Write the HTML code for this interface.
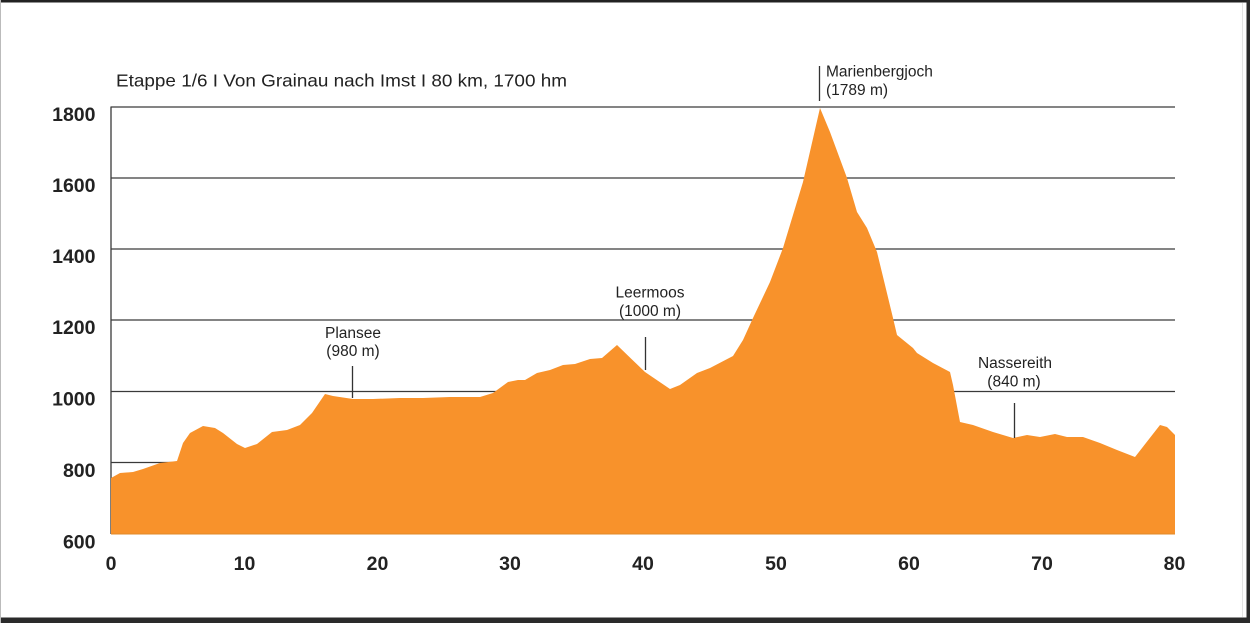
<!DOCTYPE html>
<html>
<head>
<meta charset="utf-8">
<style>
html,body{margin:0;padding:0;background:#fff;}
body{width:1250px;height:623px;overflow:hidden;}
svg{display:block;}
</style>
</head>
<body>
<svg width="1250" height="623" viewBox="0 0 1250 623" xmlns="http://www.w3.org/2000/svg">
  <rect x="0" y="0" width="1250" height="623" fill="#ffffff"/>
  <!-- frame -->
  <rect x="0" y="0" width="1250" height="2.5" fill="#222"/>
  <rect x="1246.5" y="0" width="3.5" height="623" fill="#2a2a2a"/>
  <rect x="0" y="617.5" width="1250" height="5.5" fill="#2a2a2a"/>
  <rect x="0" y="0" width="1" height="623" fill="#bbb"/>
  <line x1="1242.5" y1="3" x2="1242.5" y2="617" stroke="#e4e4e4" stroke-width="1"/>

  <!-- title -->
  <text x="116" y="86.5" font-family="Liberation Sans, sans-serif" font-size="17.5" fill="#222" textLength="451" lengthAdjust="spacingAndGlyphs">Etappe 1/6 I Von Grainau nach Imst I 80 km, 1700 hm</text>

  <!-- gridlines -->
  <g stroke="#3a3a3a" stroke-width="1.3">
    <line x1="111" y1="107" x2="1175" y2="107"/>
    <line x1="111" y1="178" x2="1175" y2="178"/>
    <line x1="111" y1="249" x2="1175" y2="249"/>
    <line x1="111" y1="320" x2="1175" y2="320"/>
    <line x1="111" y1="391.5" x2="1175" y2="391.5"/>
    <line x1="111" y1="462.5" x2="1175" y2="462.5"/>
    <line x1="111" y1="106.5" x2="111" y2="534"/>
  </g>

  <!-- profile -->
  <polygon fill="#F8922B" points="
    111,478 120,473 133,472 143,469 160,463 177,461 183,443 190,433 203,426 215,428 223,433 237,444 245,448 257,444 272,432 287,430 300,425 312,413 325,394 333,396 353,399 373,399 400,398 423,398 450,397 480,397 493,393 508,382 518,380 525,380 537,373 550,370 563,365 575,364 590,359 602,358 617,345 645,372 670,389 680,385 697,373 710,368 733,356 743,340 753,318 770,282 783,248 803,182 820,108 830,132 847,178 857,212 867,228 877,252 893,318 897,335 913,348 917,353 933,363 950,372 953,385 960,422 973,425 993,432 1013,438 1027,435 1040,437 1055,434 1067,437 1083,437 1100,443 1117,450 1135,457 1160,425 1167,427 1175,435 1175,534 111,534"/>
  <line x1="111" y1="534" x2="1175" y2="534" stroke="#e0892a" stroke-width="1"/>

  <!-- markers -->
  <g stroke="#333" stroke-width="1.3">
    <line x1="352.5" y1="366" x2="352.5" y2="398"/>
    <line x1="645.5" y1="337" x2="645.5" y2="370"/>
    <line x1="819.5" y1="66" x2="819.5" y2="101"/>
    <line x1="1014.5" y1="403" x2="1014.5" y2="438"/>
  </g>

  <!-- place labels -->
  <g font-family="Liberation Sans, sans-serif" font-size="15.5" fill="#222">
    <text x="353" y="338" text-anchor="middle">Plansee</text>
    <text x="353" y="356" text-anchor="middle">(980 m)</text>
    <text x="650" y="297.5" text-anchor="middle">Leermoos</text>
    <text x="650" y="316" text-anchor="middle">(1000 m)</text>
    <text x="826" y="76.5">Marienbergjoch</text>
    <text x="826" y="95">(1789 m)</text>
    <text x="1015" y="368" text-anchor="middle">Nassereith</text>
    <text x="1014" y="386.5" text-anchor="middle">(840 m)</text>
  </g>

  <!-- y axis labels -->
  <g font-family="Liberation Sans, sans-serif" font-size="19.5" font-weight="bold" fill="#222" text-anchor="end">
    <text x="95.5" y="121">1800</text>
    <text x="95.5" y="192">1600</text>
    <text x="95.5" y="263">1400</text>
    <text x="95.5" y="334">1200</text>
    <text x="95.5" y="405.5">1000</text>
    <text x="95.5" y="477">800</text>
    <text x="95.5" y="548.5">600</text>
  </g>

  <!-- x axis labels -->
  <g font-family="Liberation Sans, sans-serif" font-size="19.5" font-weight="bold" fill="#222" text-anchor="middle">
    <text x="111" y="570">0</text>
    <text x="244.5" y="570">10</text>
    <text x="377.5" y="570">20</text>
    <text x="510" y="570">30</text>
    <text x="643" y="570">40</text>
    <text x="776" y="570">50</text>
    <text x="909" y="570">60</text>
    <text x="1042" y="570">70</text>
    <text x="1174.5" y="570">80</text>
  </g>
</svg>
</body>
</html>
